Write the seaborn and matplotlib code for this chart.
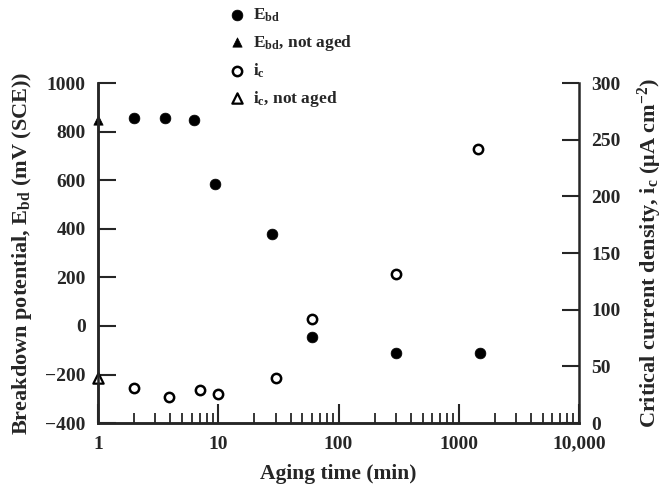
import numpy as np
import pandas as pd
import matplotlib
matplotlib.use("Agg")
import matplotlib.pyplot as plt
import seaborn as sns

# aging time (min) and breakdown potential E_bd (mV SCE)
t_E = [2, 3.6, 6.3, 9.4, 28, 60, 300, 1500]
E_bd = [855, 855, 850, 585, 380, -45, -110, -110]
# not aged sample
t_E0 = [1]
E_bd0 = [850]

# critical current density i_c (uA cm^-2)
t_i = [2, 3.9, 7, 10, 30, 60, 300, 1450]
i_c = [31, 23, 29, 26, 40, 92, 132, 242]
t_i0 = [1]
i_c0 = [40]

xticks = [1, 10, 100, 1000, 10000]
xticklabels = ["1", "10", "100", "1000", "10,000"]
yticks_left = [-400, -200, 0, 200, 400, 600, 800, 1000]
yticks_right = [0, 50, 100, 150, 200, 250, 300]

sns.set_style("ticks")
plt.rcParams['font.family'] = ['Liberation Serif', 'DejaVu Serif']
plt.rcParams['font.weight'] = 'bold'
plt.rcParams['mathtext.fontset'] = 'custom'
plt.rcParams['mathtext.rm'] = 'Liberation Serif:bold'
plt.rcParams['mathtext.it'] = 'Liberation Serif:bold'
plt.rcParams['mathtext.bf'] = 'Liberation Serif:bold'

fig = plt.figure(figsize=(6.67, 4.92), dpi=100)
ax = fig.add_axes([0.147, 0.140, 0.721, 0.691])
ax.set_xscale('log')
ax2 = ax.twinx()

df_E = pd.DataFrame({'t': t_E, 'E': E_bd})
df_E0 = pd.DataFrame({'t': t_E0, 'E': E_bd0})
df_i = pd.DataFrame({'t': t_i, 'i': i_c})
df_i0 = pd.DataFrame({'t': t_i0, 'i': i_c0})

sns.scatterplot(data=df_E, x='t', y='E', ax=ax, marker='o', s=60,
                color='black', edgecolor='black', linewidth=0.5,
                label=r'$\mathrm{E_{bd}}$', legend=False)
sns.scatterplot(data=df_E0, x='t', y='E', ax=ax, marker='^', s=45,
                color='black', edgecolor='black', linewidth=0.5, clip_on=False,
                label=r'$\mathrm{E_{bd}}$, not aged', legend=False)
sns.scatterplot(data=df_i, x='t', y='i', ax=ax2, marker='o', s=45,
                facecolor='white', edgecolor='black', linewidth=1.8,
                label=r'$\mathrm{i_c}$', legend=False)
sns.scatterplot(data=df_i0, x='t', y='i', ax=ax2, marker='^', s=55,
                facecolor='white', edgecolor='black', linewidth=1.6, clip_on=False,
                label=r'$\mathrm{i_c}$, not aged', legend=False)

ax.set_xlim(1, 10000)
ax.set_ylim(-400, 1000)
ax2.set_ylim(0, 300)
ax.set_xticks(xticks)
ax.set_xticklabels(xticklabels)
ax.set_yticks(yticks_left)
ax2.set_yticks(yticks_right)

ax.tick_params(axis='x', which='major', direction='in', length=14, width=1.5, pad=9, labelsize=14)
ax.tick_params(axis='x', which='minor', direction='in', length=7, width=1.3)
ax.tick_params(axis='y', direction='in', length=13, width=1.5, pad=9, labelsize=14)
ax2.tick_params(axis='y', direction='in', length=12, width=1.5, pad=9, labelsize=14)

for a in (ax, ax2):
    a.spines['top'].set_visible(False)
    for s in ('left', 'right', 'bottom'):
        a.spines[s].set_linewidth(1.8)
ax.spines['right'].set_visible(False)

ax.set_xlabel('Aging time (min)', fontsize=15.5, fontweight='bold', labelpad=8)
ax.set_ylabel(r'Breakdown potential, $\mathrm{E_{bd}}$ (mV (SCE))', fontsize=16,
              fontweight='bold', labelpad=8)
ax2.set_ylabel(r'Critical current density, $\mathrm{i_c}$ (μA cm$^{-2}$)', fontsize=16,
               fontweight='bold', labelpad=11)

h1, l1 = ax.get_legend_handles_labels()
h2, l2 = ax2.get_legend_handles_labels()
fig.legend(h1 + h2, l1 + l2, loc='upper left', bbox_to_anchor=(0.33, 1.0),
           frameon=False, fontsize=12.5, handletextpad=0.3, labelspacing=0.5,
           handlelength=1.2, borderaxespad=0)

fig.savefig('out.png', dpi=100)
